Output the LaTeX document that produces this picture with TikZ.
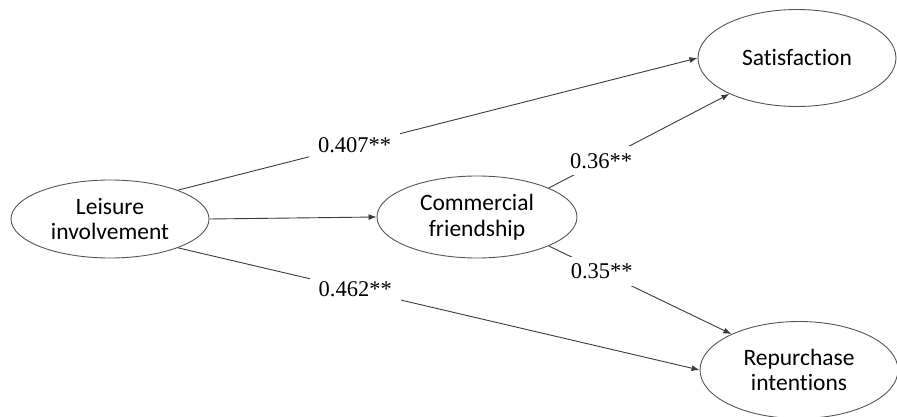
\documentclass[tikz,border=0pt]{standalone}
\usepackage{fontspec}
\setmainfont{Liberation Serif}
\newfontfamily\boxfont[Ligatures=NoCommon]{Carlito}
\usetikzlibrary{arrows.meta,shapes.geometric}
\definecolor{edgegray}{HTML}{3A3A3A}
\definecolor{rimgray}{HTML}{555555}

\begin{document}
\begin{tikzpicture}[x=1pt,y=-1pt,
    construct/.style={draw=rimgray,line width=0.9pt,ellipse,inner sep=0pt,
      minimum width=198pt,minimum height=78pt,align=center,
      font=\boxfont\fontsize{23.5}{25.5}\selectfont},
    link/.style={draw=edgegray,line width=0.9pt,-{Latex[length=8pt,width=6pt]}},
    coef/.style={fill=white,inner xsep=9pt,inner ysep=7pt,
      font=\fontsize{22.5}{26}\selectfont}]
  \useasboundingbox (0,0) rectangle (897,417);
  % constructs
  \node[construct] (leis) at (110,219) {Leisure\\involvement};
  \node[construct,minimum width=200pt,minimum height=82pt] (comm) at (477,217) {Commercial\\friendship};
  \node[construct,minimum height=97pt] (sat) at (797,58) {Satisfaction};
  \node[construct,minimum height=97pt] (rep) at (799,370) {Repurchase\\intentions};
  % paths with coefficients
  \draw[link] (leis.23) -- node[coef,pos=0.34] (c1) {0.407**} (sat.west);
  \draw[link] (leis.east) -- (comm.west);
  \draw[link] (leis.-23) -- node[coef,pos=0.34] (c2) {0.462**} (rep.west);
  \draw[link] (comm.22) -- node[coef,pos=0.29] (c3) {0.36**} (sat.208);
  \draw[link] (comm.-22) -- node[coef,pos=0.29] (c4) {0.35**} (rep.152);
\end{tikzpicture}
\end{document}
